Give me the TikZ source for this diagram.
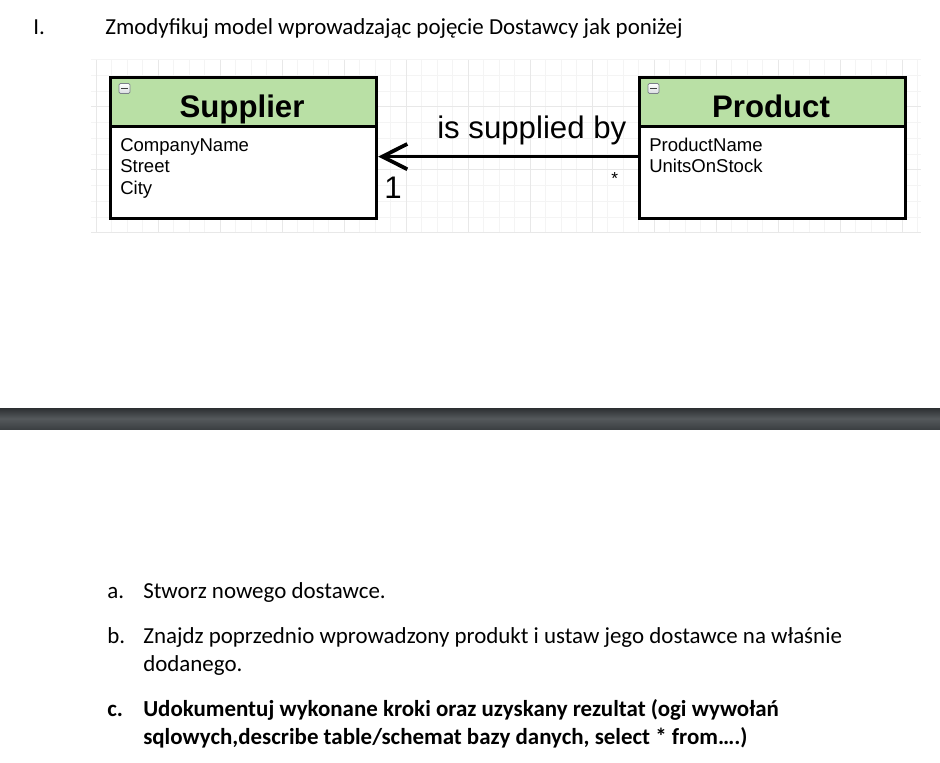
\documentclass[tikz,border=0pt]{standalone}
\usepackage{fontspec}
\setmainfont{Carlito}
\newfontfamily\umlfont{Liberation Sans}
\usetikzlibrary{arrows.meta}

\definecolor{hdrgreen}{HTML}{B9E0A5}
\definecolor{gridminor}{HTML}{F4F4F4}
\definecolor{gridmajor}{HTML}{E8E8E8}
\definecolor{bartop}{HTML}{2C2F32}
\definecolor{barmid}{HTML}{55595C}
\definecolor{barbot}{HTML}{3C4043}
\definecolor{iconfill}{HTML}{D8DCE0}
\definecolor{iconedge}{HTML}{7A8088}

\begin{document}
\begin{tikzpicture}[x=0.75pt,y=-0.75pt,
  doctext/.style={inner sep=0pt, anchor=base west, font=\fontsize{17.2pt}{20pt}\selectfont},
  docbold/.style={doctext, font=\fontsize{17.2pt}{20pt}\selectfont\bfseries},
  hdrbox/.style={draw=black, line width=2.4pt, fill=hdrgreen, inner sep=0pt,
    anchor=north west, minimum width=199.5pt, minimum height=36.75pt},
  bodybox/.style={draw=black, line width=2.4pt, fill=white, inner sep=0pt,
    anchor=north west, minimum width=199.5pt, minimum height=69pt},
  classname/.style={inner sep=0pt, anchor=base, font=\umlfont\fontsize{23.4pt}{27pt}\selectfont\bfseries},
  attr/.style={inner sep=0pt, anchor=base west, font=\umlfont\fontsize{13.9pt}{16pt}\selectfont},
  minusicon/.style={draw=iconedge, line width=0.6pt, rounded corners=1pt,
    top color=white, bottom color=iconfill, minimum width=8.25pt, minimum height=7.5pt, inner sep=0pt},
  icondash/.style={line width=1.3pt, draw=black!75},
  assoc/.style={line width=2.8pt, -{Straight Barb[length=18.75pt, width=19pt, line width=2.8pt]}},
  umllabel/.style={inner sep=0pt, anchor=base west, font=\umlfont\fontsize{23.4pt}{27pt}\selectfont}
]
\useasboundingbox (0,0) rectangle (940,763);
\fill[white] (0,0) rectangle (940,763);

% heading
\node[doctext] (num) at (33,35) {I.};
\node[doctext] (title) at (105,35) {Zmodyfikuj model wprowadzając pojęcie Dostawcy jak poniżej};

% editor grid behind the class diagram
\foreach \k in {0,...,53} {
  \draw[gridminor, line width=0.75pt] (96+15.5*\k,60) -- (96+15.5*\k,233);
}
\foreach \k in {0,...,11} {
  \draw[gridminor, line width=0.75pt] (91,233-15.75*\k) -- (921,233-15.75*\k);
}
\foreach \k in {0,...,13} {
  \draw[gridmajor, line width=0.75pt] (96+62*\k,60) -- (96+62*\k,233);
}
\foreach \k in {0,...,2} {
  \draw[gridmajor, line width=0.75pt] (91,233-63*\k) -- (921,233-63*\k);
}

% Supplier class
\node[bodybox] (supb) at (109,125) {};
\node[hdrbox] (suph) at (109,76) {};
\node[minusicon] (supicon) at (124.5,88.5) {};
\draw[icondash] ([xshift=-2.4pt]supicon.center) -- ([xshift=2.4pt]supicon.center);
\node[classname] (supname) at (242,117.5) {Supplier};
\node[attr] (sup1) at (120,152) {CompanyName};
\node[attr] (sup2) at (120,173) {Street};
\node[attr] (sup3) at (120,195) {City};

% Product class
\node[bodybox] (prodb) at (638,125) {};
\node[hdrbox] (prodh) at (638,76) {};
\node[minusicon] (prodicon) at (653.5,88.5) {};
\draw[icondash] ([xshift=-2.4pt]prodicon.center) -- ([xshift=2.4pt]prodicon.center);
\node[classname] (prodname) at (771,117.5) {Product};
\node[attr] (prod1) at (649,152) {ProductName};
\node[attr] (prod2) at (649,173) {UnitsOnStock};

% association
\draw[assoc] ([yshift=12pt]prodb.west) -- ([yshift=12pt]supb.east);
\node[umllabel] (rel) at (437,138.5) {is supplied by};
\node[umllabel] (mult1) at (384,199) {1};
\node[attr, font=\umlfont\fontsize{13pt}{15pt}\selectfont] (multn) at (611,185) {*};

% page separator bar
\shade[top color=bartop, bottom color=barbot, middle color=barmid] (0,408) rectangle (940,429);

% task list
\node[doctext] (la) at (107,598) {a.};
\node[doctext] (ta) at (143,598) {Stworz nowego dostawce.};
\node[doctext] (lb) at (107,643) {b.};
\node[doctext] (tb) at (143,643) {Znajdz poprzednio wprowadzony produkt i ustaw jego dostawce na właśnie};
\node[doctext] (tb2) at (143,671) {dodanego.};
\node[docbold] (lc) at (107,716) {c.};
\node[docbold] (tc) at (143,716) {Udokumentuj wykonane kroki oraz uzyskany rezultat (ogi wywołań};
\node[docbold] (tc2) at (143,744) {sqlowych,describe table/schemat bazy danych, select * from….)};
\end{tikzpicture}
\end{document}
